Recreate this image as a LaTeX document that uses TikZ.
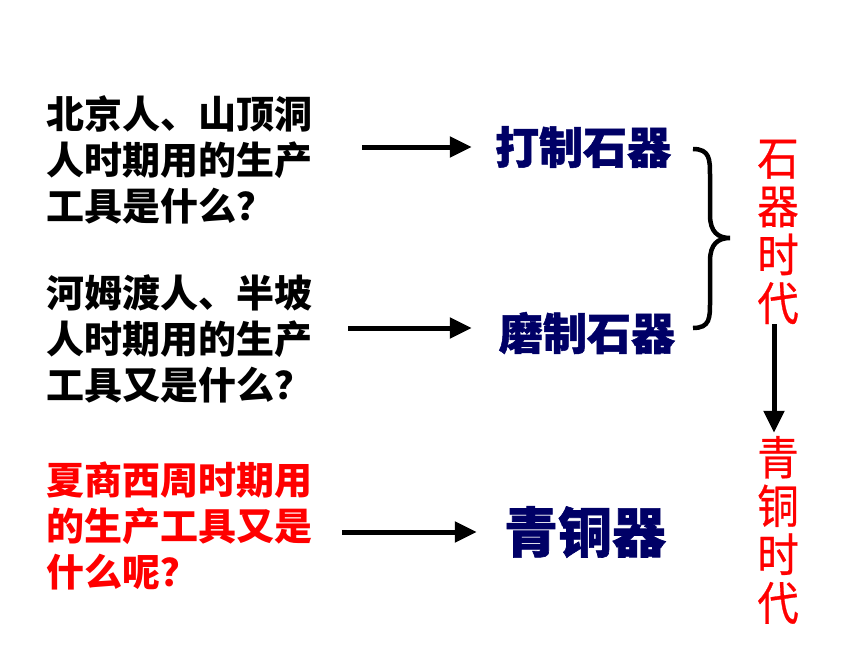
\documentclass[tikz,border=0pt]{standalone}
\usepackage{fontspec}
\newfontfamily\cjk{Noto Sans CJK SC}
\newfontfamily\cjkheavy{Noto Sans CJK SC}[BoldFeatures={FakeBold=1.2}]
\newfontfamily\cjkera{Noto Sans CJK SC}[FakeBold=0.6, FakeStretch=0.9]
\usetikzlibrary{positioning, arrows.meta}

\definecolor{navy}{RGB}{0,0,102}
\definecolor{pptred}{RGB}{255,0,0}

\tikzstyle{question} = [anchor=west, align=left, inner sep=0pt, font=\cjk\bfseries\fontsize{38}{46}\selectfont]
\tikzstyle{answer} = [inner sep=0pt, text=navy, font=\cjkheavy\bfseries\fontsize{44}{48}\selectfont]
\tikzstyle{era} = [inner sep=0pt, align=center, text=pptred, font=\cjkera\fontsize{46}{48.5}\selectfont]
\tikzstyle{arrow} = [line width=5pt, -{Triangle[length=22pt, width=20pt]}]

\begin{document}
\begin{tikzpicture}[x=1pt, y=-1pt]
    \useasboundingbox (0,0) rectangle (860,645);

    \node (q1) [question] at (46,160) {北京人、山顶洞\\人时期用的生产\\工具是什么？};
    \node (q2) [question] at (46,339) {河姆渡人、半坡\\人时期用的生产\\工具又是什么？};
    \node (q3) [question, text=pptred] at (46,526) {夏商西周时期用\\的生产工具又是\\什么呢？};

    \node (dazhi) [answer] at (583,147) {打制石器};
    \node (mozhi) [answer] at (587,333) {磨制石器};
    \node (qtq)   [answer, font=\cjkheavy\bfseries\fontsize{54}{58}\selectfont] at (585,532) {青铜器};

    \node (shiqi)    [era] at (778,232) {石\\器\\时\\代};
    \node (qingtong) [era] at (778,530) {青\\铜\\时\\代};

    \draw [arrow] ([xshift=50pt]q1.east |- dazhi.west) -- ([xshift=-23pt]dazhi.west);
    \draw [arrow] ([xshift=36pt, yshift=5pt]q2.east |- mozhi.west) -- ([xshift=-27pt, yshift=5pt]mozhi.west);
    \draw [arrow] ([xshift=30pt]q3.east |- qtq.west) -- ([xshift=-27pt]qtq.west);
    \draw [arrow, shorten >=3pt] ([xshift=-4pt]shiqi.south) -- ([xshift=-4pt]qingtong.north);

    % brace
    \draw [line width=4.5pt] (693,149) .. controls (710,149) and (710,160) .. (710,175) -- (710,215)
        .. controls (710,232) and (718,238) .. (730,238)
        .. controls (718,238) and (710,244) .. (710,261) -- (710,302)
        .. controls (710,318) and (710,328) .. (693,328);
\end{tikzpicture}
\end{document}
